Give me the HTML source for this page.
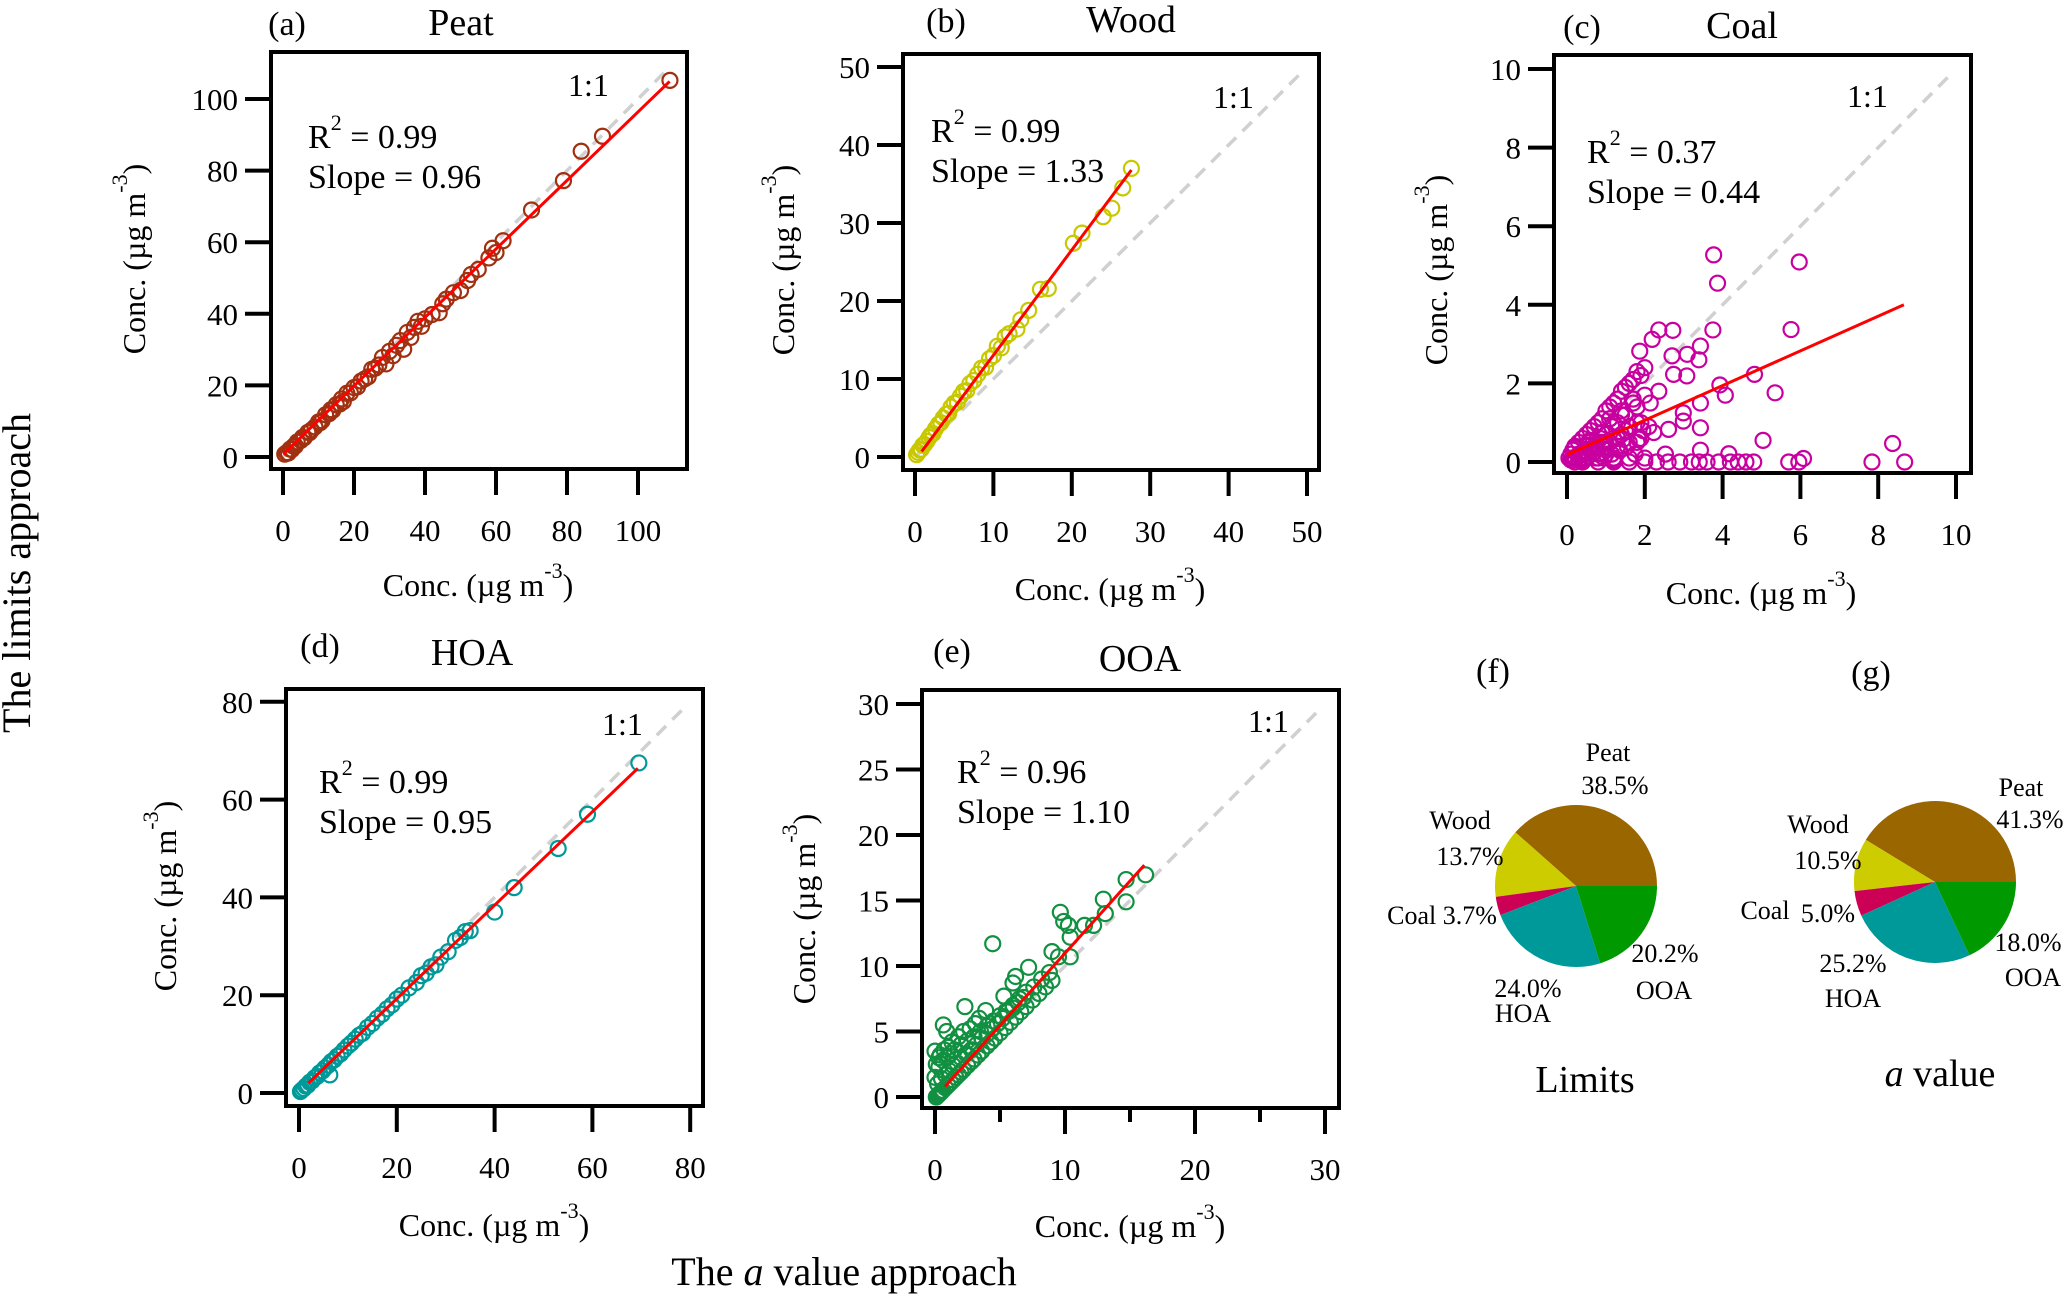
<!DOCTYPE html>
<html><head><meta charset="utf-8"><style>
html,body{margin:0;padding:0;background:#fff;}
svg{display:block;font-family:"Liberation Serif",serif;}
</style></head><body>
<svg id="fig" width="2067" height="1294" viewBox="0 0 2067 1294" xmlns="http://www.w3.org/2000/svg">
<text transform="translate(30,573) rotate(-90)" text-anchor="middle" font-size="40">The limits approach</text>
<text x="844" y="1285" text-anchor="middle" font-size="40">The <tspan font-style="italic">a</tspan> value approach</text>
</svg>
<script>
// ---- data ----
const peatX=[0.5,1,1.5,2,2.5,3,3.5,4,5,5.5,6,7,7.5,8,9,10,10.5,11,12,13,13.5,14,15,16,16.5,17,18,19,20,21,22,23,24,25,26,27,28,29,30,31,32,33,34,35,36,37,38,39,40,42,44,45,46,48,50,52,53,55,58,59,60,62,70,79,84,90,109];
const peatY=[0.8,1.2,1.1,2.2,2.1,3.0,3.1,4.2,4.6,5.5,5.4,6.9,6.8,7.5,8.4,9.8,9.6,10.1,11.8,12.1,13.2,13.0,14.6,14.8,16.2,15.5,17.8,17.9,19.4,19.6,21.2,21.8,22.4,24.5,24.8,25.7,27.8,26.0,29.5,28.3,31.2,32.5,30.1,34.8,33.4,36.2,37.9,36.5,38.6,39.8,40.3,42.8,44.1,45.9,46.5,49.3,51.0,52.4,55.6,58.3,57.1,60.4,69.0,77.2,85.4,89.6,105.2];
const woodX=[0.2,0.4,0.6,0.8,1,1.2,1.5,1.8,2,2.3,2.6,3,3.3,3.6,4,4.3,4.6,5,5.4,5.8,6.2,6.6,7,7.5,8,8.5,9,9.5,10,10.5,11,11.5,12,13,13.5,14.5,16,17,20.2,21.3,24,25.1,26.5,27.6];
const woodY=[0.3,0.6,0.9,1.0,1.5,1.6,2.0,2.5,2.8,3.0,3.6,4.2,4.4,5.0,5.5,5.6,6.4,6.9,7.0,7.8,8.4,8.5,9.4,9.8,10.6,11.4,11.5,12.6,13.0,14.2,14.0,15.4,15.8,16.4,17.6,18.8,21.5,21.6,27.4,28.7,30.8,31.9,34.5,37.0];
const coalX=[0.05,0.1,0.15,0.2,0.3,0.3,0.4,0.45,0.5,0.55,0.6,0.7,0.7,0.8,0.85,0.9,1.0,1.0,1.1,1.15,1.2,1.3,1.3,1.4,1.5,1.5,1.6,1.7,1.8,1.8,1.9,2.0,
 0.3,0.6,0.9,1.2,1.5,1.8,2.0,1.1,1.4,1.7, 0.5,0.9,1.3,1.6,1.9,2.1,
 0.1,0.2,0.3,0.4,0.5,0.6,0.7,0.8,0.9,1.0,1.1,1.2,
 0.2,0.4,0.8,1.2,1.6,2.0,2.3,2.6,2.9,3.2,3.4,3.6,3.9,4.2,4.4,4.6,4.8,
 3.77,5.97,3.87,3.75,5.76,4.82,5.35,5.04,3.93,4.07,8.37,7.84,8.68,5.7,5.96,6.08,
 2.36,2.72,2.19,1.87,3.43,2.70,3.09,3.39,2.74,3.08,2.36,2.14,2.99,3.43,3.43,2.99,2.23,2.61,1.84,1.45,3.43,4.16,2.53,
 0.2,0.3,0.5,0.6,0.7,0.9,1.0,1.1,1.3,1.4,1.6,1.7,1.9,0.4,0.8,1.2,1.6,2.0,0.6,1.0,1.4,1.8,0.15,0.35,0.55,0.75,0.95,1.15,1.35,1.55,1.75,1.95];
const coalY=[0.1,0.2,0.3,0.4,0.5,0.2,0.6,0.3,0.7,0.5,0.8,0.9,0.4,1.0,0.6,1.1,1.3,0.7,1.4,0.9,1.5,1.6,1.0,1.8,1.9,1.2,2.0,2.1,2.3,1.4,2.2,2.4,
 0.05,0.3,0.5,0.6,0.8,1.0,1.7,1.1,1.3,1.6, 0.1,0.2,0.4,0.5,0.6,0.9,
 0.05,0.1,0.15,0.2,0.25,0.3,0.35,0.2,0.45,0.3,0.5,0.1,
 0,0,0,0,0,0,0,0,0,0,0,0,0,0,0,0,0,
 5.27,5.09,4.55,3.36,3.37,2.23,1.76,0.55,1.96,1.70,0.47,0,0,0,0,0.09,
 3.36,3.35,3.12,2.82,2.95,2.70,2.74,2.60,2.23,2.19,1.80,1.50,1.25,1.50,0.87,1.04,0.75,0.83,0.58,0.58,0.3,0.21,0.2,
 0.35,0.15,0.4,0.55,0.25,0.75,0.5,1.1,0.6,1.2,0.9,1.5,1.0,0.05,0.1,0.05,0.1,0.1,0.3,0.2,0.7,0.5,0.05,0.1,0.15,0.1,0.1,0.2,0.3,0.4,0.2,0.8];
const hoaX=[0.3,0.6,1,1.4,1.8,2.2,2.7,3.2,3.7,4.2,4.8,5.3,6,6.6,7.2,7.8,8.5,9.2,10,10.7,11.5,12.3,13,14,15,16,17,18,19,20,21,22.5,24,25,26,27,28,29,30.5,32,33,34,35,40,44,53,59,69.5,6.3];
const hoaY=[0.3,0.6,0.9,1.4,1.6,2.2,2.5,3.1,3.4,4.1,4.5,5.1,5.7,6.4,6.8,7.5,8.0,8.8,9.6,10.2,11.0,11.8,12.2,13.4,14.2,15.3,16.1,17.2,18.0,19.2,20.0,21.5,22.6,24.0,24.5,25.8,26.2,27.8,28.9,31.2,31.8,33.0,33.2,37.0,42.0,50.0,57.0,67.5,3.7];
const ooaX=[0.1,0.2,0.3,0.4,0.5,0.6,0.8,1.0,1.2,1.4,1.6,1.8,2.0,2.2,2.5,2.8,3.0,3.3,3.6,4.0,4.3,4.6,5.0,5.4,5.8,6.2,6.6,7.0,7.5,8.0,8.5,9.0,
 0.0,0.3,0.6,0.9,1.2,1.5,2.0,2.5,3.0,3.5,4.0,4.5,5.0,5.5,6.0,6.5,7.0,
 0.0,0.4,0.64,0.9,2.3,3.9,5.3,6.0,6.2,7.2,9.0,9.5,10.4,10.4,9.9,10.26,11.5,12.2,13.1,12.95,14.7,14.7,16.2,4.44,9.64,
 0.2,0.5,0.8,1.1,1.4,1.7,2.0,2.4,2.8,3.2,3.6,4.0,4.4,4.8,5.2,5.6,6.0,6.4,6.8,7.6,8.2,8.8,0.1,0.3,0.7,1.0,1.3,1.8,2.2,2.7,3.1,3.4];
const ooaY=[0.0,0.1,0.2,0.3,0.4,0.5,0.7,0.9,1.1,1.3,1.5,1.7,1.9,2.1,2.4,2.7,2.9,3.2,3.5,3.9,4.2,4.5,4.9,5.3,5.7,6.1,6.5,6.9,7.4,7.9,8.4,8.9,
 1.5,2.3,2.8,3.0,3.3,3.6,4.0,4.3,4.6,5.0,5.4,5.8,6.2,6.6,7.0,7.5,8.0,
 3.5,3.2,5.5,5.0,6.9,6.6,7.7,8.7,9.2,9.9,11.1,10.7,10.7,12.2,13.4,13.1,13.1,13.1,14.0,15.1,14.9,16.6,16.96,11.7,14.1,
 1.0,1.4,1.7,2.0,2.4,2.6,3.0,3.3,3.6,4.0,4.5,4.8,5.2,5.6,6.0,6.5,6.8,7.2,7.6,8.4,9.0,9.5,2.5,3.0,3.6,3.8,4.2,4.6,5.0,5.2,5.6,6.0];
// fit line endpoints [x1,y1,x2,y2]
const peatFit=[0.1,0.8,108.9,104.9];
const woodFit=[0.85,0.7,27.6,36.8];
const coalFit=[0.0,0.18,8.66,4.0];
const hoaFit=[1.9,2.0,69.3,66.4];
const ooaFit=[0.77,0.8,16.1,17.7];
const peatStats=["0.99","0.96"], woodStats=["0.99","1.33"], coalStats=["0.37","0.44"], hoaStats=["0.99","0.95"], ooaStats=["0.96","1.10"];
const ticksA=[0,20,40,60,80,100], ticksB=[0,10,20,30,40,50], ticksC=[0,2,4,6,8,10], ticksD=[0,20,40,60,80];
const ticksEy=[0,5,10,15,20,25,30], ticksEx=[0,10,20,30], minorEx=[5,15,25];
const pieCats=["Peat","Wood","Coal","HOA","OOA"];
const pieLimits=[38.5,13.7,3.7,24.0,20.2];
const pieAvalue=[41.3,10.5,5.0,25.2,18.0];
const pieColors=["#996600","#CCCC00","#CC0055","#009999","#009900"];

const NS="http://www.w3.org/2000/svg";
const svg=document.getElementById('fig');
function mk(tag,attrs,parent,txt){const e=document.createElementNS(NS,tag);for(const k in attrs)e.setAttribute(k,attrs[k]);if(txt!==undefined)e.textContent=txt;(parent||svg).appendChild(e);return e;}

function panel(p){
  const g=mk('g',{});
  
  
  const sx=v=>p.x0+v*p.kx, sy=v=>p.y0-v*p.ky;
  const d=mk('line',{x1:sx(0),y1:sy(0),x2:sx(p.dash),y2:sy(p.dash),stroke:'#d0d0d0','stroke-width':3.5,'stroke-dasharray':'13,9'},g);
  
  
  const n=Math.min(p.xs.length,p.ys.length);
  for(let i=0;i<n;i++){
    const c=mk('circle',{cx:sx(p.xs[i]),cy:sy(p.ys[i]),r:7.5,fill:'none',stroke:p.color,'stroke-width':2.2},g);
    
    
  }
  const f=mk('line',{x1:sx(p.fit[0]),y1:sy(p.fit[1]),x2:sx(p.fit[2]),y2:sy(p.fit[3]),stroke:'#ff0000','stroke-width':3},g);
  
  
  const b=mk('rect',{x:p.L,y:p.T,width:p.R-p.L,height:p.B-p.T,fill:'none',stroke:'#000','stroke-width':4},g);
  
  
  p.yt.forEach(v=>{
    const t=mk('line',{x1:p.L-26,x2:p.L,y1:sy(v),y2:sy(v),stroke:'#000','stroke-width':4},g);
    
    
    const l=mk('text',{x:p.L-33,y:sy(v)+11,'text-anchor':'end','font-size':31},g,String(v));
    
    
  });
  p.xt.forEach(v=>{
    const t=mk('line',{x1:sx(v),x2:sx(v),y1:p.B,y2:p.B+26,stroke:'#000','stroke-width':4},g);
    
    
    const l=mk('text',{x:sx(v),y:p.B+72,'text-anchor':'middle','font-size':31},g,String(v));
    
    
  });
  (p.xm||[]).forEach(v=>{
    const t=mk('line',{x1:sx(v),x2:sx(v),y1:p.B,y2:p.B+14,stroke:'#000','stroke-width':4},g);
    
    
  });
  const r=mk('text',{x:p.tx,y:p.ty,'font-size':34},g);
  
  
  mk('tspan',{},r,'R');mk('tspan',{'font-size':22,dy:-18},r,'2');mk('tspan',{dy:18},r,' = '+p.stats[0]);
  const s=mk('text',{x:p.tx,y:p.ty+40,'font-size':34},g,'Slope = '+p.stats[1]);
  
  
  const o=mk('text',{x:p.ox,y:p.oy,'font-size':32},g,'1:1');
  
  
  const lt=mk('text',{x:p.letter[1],y:p.letter[2],'text-anchor':'middle','font-size':34},g,p.letter[0]);
  
  
  const tt=mk('text',{x:p.title[1],y:p.title[2],'text-anchor':'middle','font-size':38},g,p.title[0]);
  
  
  const xa=mk('text',{x:p.xat[0],y:p.xat[1],'text-anchor':'middle','font-size':32},g);
  
  
  mk('tspan',{},xa,'Conc. (µg m');mk('tspan',{'font-size':22,dy:-18},xa,'-3');mk('tspan',{dy:18},xa,')');
  const ya=mk('text',{transform:`translate(${p.yat[0]},${p.yat[1]}) rotate(-90)`,'text-anchor':'middle','font-size':32},g);
  
  
  mk('tspan',{},ya,'Conc. (µg m');mk('tspan',{'font-size':22,dy:-18},ya,'-3');mk('tspan',{dy:18},ya,')');
}

panel({name:'peat',L:271,R:687,T:52,B:469,x0:283,kx:3.55,y0:457,ky:3.58,xs:peatX,ys:peatY,fit:peatFit,dash:107.5,color:'#A0300F',xt:ticksA,yt:ticksA,stats:peatStats,tx:308,ty:148,ox:568,oy:96,letter:['(a)',287,35],title:['Peat',461,35],xat:[478,596],yat:[145,259]});
panel({name:'wood',L:903,R:1319,T:54,B:470,x0:915,kx:7.84,y0:457,ky:7.8,xs:woodX,ys:woodY,fit:woodFit,dash:49,color:'#C8C800',xt:ticksB,yt:ticksB,stats:woodStats,tx:931,ty:142,ox:1213,oy:108,letter:['(b)',946,32],title:['Wood',1131,32],xat:[1110,600],yat:[794,260]});
panel({name:'coal',L:1554,R:1971,T:55,B:473,x0:1567,kx:38.9,y0:462,ky:39.3,xs:coalX,ys:coalY,fit:coalFit,dash:9.85,color:'#C800A0',xt:ticksC,yt:ticksC,stats:coalStats,tx:1587,ty:163,ox:1847,oy:107,letter:['(c)',1582,38],title:['Coal',1742,38],xat:[1761,604],yat:[1447,270]});
panel({name:'hoa',L:286,R:703,T:689,B:1106,x0:299,kx:4.89,y0:1093,ky:4.89,xs:hoaX,ys:hoaY,fit:hoaFit,dash:78.6,color:'#00999A',xt:ticksD,yt:ticksD,stats:hoaStats,tx:319,ty:793,ox:602,oy:735,letter:['(d)',320,657],title:['HOA',472,665],xat:[494,1236],yat:[176,896]});
panel({name:'ooa',L:922,R:1339,T:690,B:1108,x0:935,kx:13.0,y0:1097,ky:13.1,xs:ooaX,ys:ooaY,fit:ooaFit,dash:29.5,color:'#109040',xt:ticksEx,xm:minorEx,yt:ticksEy,stats:ooaStats,tx:957,ty:783,ox:1248,oy:732,letter:['(e)',952,662],title:['OOA',1140,671],xat:[1130,1237],yat:[815,909]});

function pie(name,vals,cx,cy,r,labels,letter,cap){
  const g=mk('g',{});
  
  
  const tot=vals.reduce((a,b)=>a+b,0);
  let a0=0;
  vals.forEach((v,i)=>{
    const a1=a0+v/tot*2*Math.PI;
    const x0=cx+r*Math.cos(a0),y0=cy-r*Math.sin(a0),x1=cx+r*Math.cos(a1),y1=cy-r*Math.sin(a1);
    const large=(a1-a0)>Math.PI?1:0;
    const p=mk('path',{d:`M${cx},${cy} L${x0},${y0} A${r},${r} 0 ${large} 0 ${x1},${y1} Z`,fill:pieColors[i]},g);
    
    
    a0=a1;
  });
  labels.forEach(l=>{
    const t=mk('text',{x:l[1],y:l[2]+9,'text-anchor':'middle','font-size':26},g,l[0]);
    
    
  });
  const lt=mk('text',{x:letter[1],y:letter[2],'text-anchor':'middle','font-size':34},g,letter[0]);
  
  
  const c=mk('text',{x:cap[0],y:cap[1]+13,'text-anchor':'middle','font-size':38},g);
  
  
  if(cap[3]){mk('tspan',{'font-style':'italic'},c,'a');mk('tspan',{},c,' value');}else c.textContent=cap[2];
}
pie('pie-limits',pieLimits,1576,886,81,
 [['Peat',1608,752],[pieLimits[0].toFixed(1)+'%',1615,785],['Wood',1460,820],[pieLimits[1].toFixed(1)+'%',1470,856],['Coal '+pieLimits[2].toFixed(1)+'%',1442,915],[pieLimits[4].toFixed(1)+'%',1665,953],['OOA',1664,990],[pieLimits[3].toFixed(1)+'%',1528,988],['HOA',1523,1013]],
 ['(f)',1493,682],[1585,1079,'Limits',false]);
pie('pie-a-value',pieAvalue,1935,882,81,
 [['Peat',2021,787],[pieAvalue[0].toFixed(1)+'%',2030,819],['Wood',1818,824],[pieAvalue[1].toFixed(1)+'%',1828,860],['Coal',1765,910],[pieAvalue[2].toFixed(1)+'%',1828,913],[pieAvalue[4].toFixed(1)+'%',2028,942],['OOA',2033,977],[pieAvalue[3].toFixed(1)+'%',1853,963],['HOA',1853,998]],
 ['(g)',1871,684],[1940,1073,'',true]);
</script>
</body></html>
